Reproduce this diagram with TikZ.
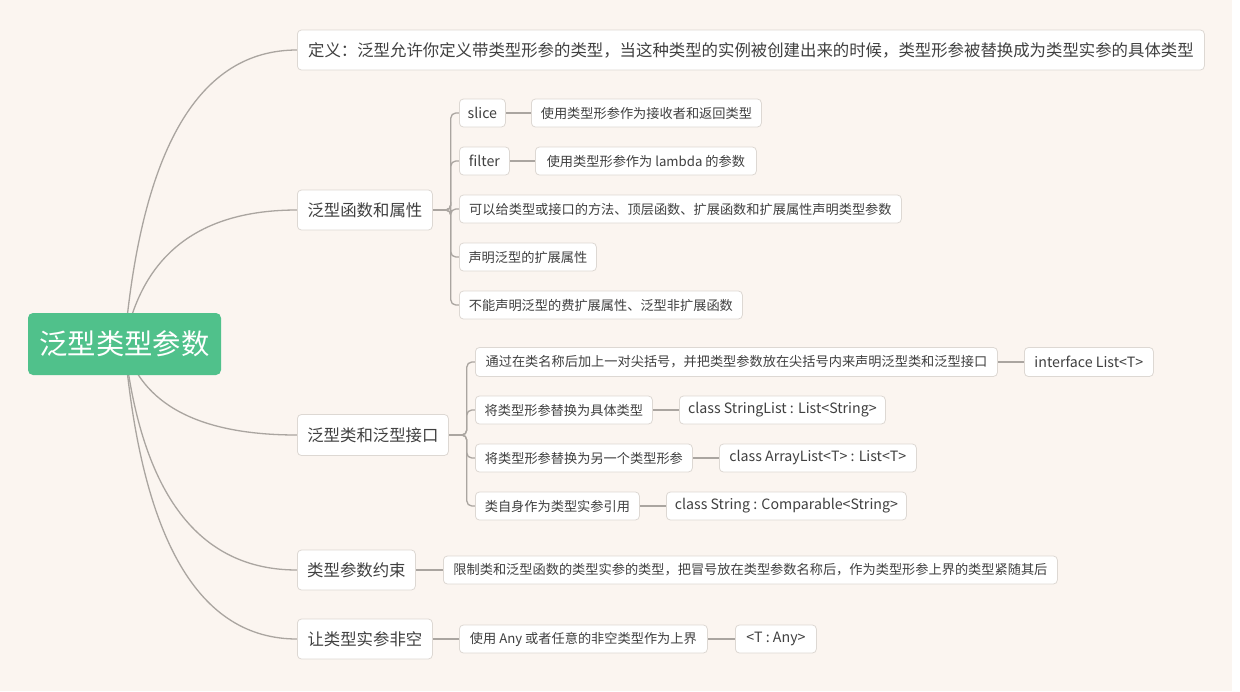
\documentclass[tikz,border=0pt]{standalone}
\usepackage{fontspec}
\setmainfont{Noto Sans CJK SC}
\usetikzlibrary{calc}
\pgfdeclarelayer{bglayer}
\pgfdeclarelayer{edgelayer}
\pgfsetlayers{bglayer,edgelayer,main}
\definecolor{pagebg}{RGB}{251,245,240}
\definecolor{boxline}{RGB}{221,216,211}
\definecolor{txt}{RGB}{64,64,64}
\definecolor{linec}{RGB}{170,165,160}
\definecolor{rootgreen}{RGB}{80,193,139}
\tikzset{
  box/.style={draw=boxline, fill=white, rounded corners=4pt, line width=0.8pt,
    text=txt, inner sep=0pt, anchor=west, minimum height=28pt,
    font=\fontsize{13.2}{15}\selectfont},
  latinbox/.style={box, font=\fontsize{14.2}{16}\selectfont},
  lvlone/.style={box, minimum height=40pt, font=\fontsize{16.4}{19}\selectfont},
  defbox/.style={box, minimum height=40pt, font=\fontsize{16.4}{19}\selectfont},
  rootbox/.style={fill=rootgreen, rounded corners=5pt, text=white, inner sep=0pt,
    minimum width=193pt, minimum height=62pt, font=\fontsize{28.3}{32}\selectfont},
  conn/.style={draw=linec, line width=1.3pt},
}
\begin{document}
\begin{tikzpicture}[x=1pt,y=-1pt]
\useasboundingbox (0,0) rectangle (1240,691);
\begin{pgfonlayer}{bglayer}
  \fill[white] (0,0) rectangle (1240,691);
  \fill[pagebg] (0,0) rectangle (1232,691);
\end{pgfonlayer}

\node[rootbox] (root) at (124.5,344) {泛型类型参数};

\node[defbox, minimum width=907pt] (def) at (297,50) {定义：泛型允许你定义带类型形参的类型，当这种类型的实例被创建出来的时候，类型形参被替换成为类型实参的具体类型};

\node[lvlone, minimum width=135pt] (f1) at (297,210) {泛型函数和属性};
\node[latinbox, minimum width=46pt] (slice) at (459,113) {slice};
\node[box, minimum width=230pt] (sliced) at (531,113) {使用类型形参作为接收者和返回类型};
\node[latinbox, minimum width=50pt] (filter) at (459,161) {filter};
\node[box, minimum width=221pt] (filterd) at (535,161) {使用类型形参作为 lambda 的参数};
\node[box, minimum width=442pt] (fc3) at (459,209) {可以给类型或接口的方法、顶层函数、扩展函数和扩展属性声明类型参数};
\node[box, minimum width=137pt] (fc4) at (459,257) {声明泛型的扩展属性};
\node[box, minimum width=283pt] (fc5) at (459,305) {不能声明泛型的费扩展属性、泛型非扩展函数};

\node[lvlone, minimum width=151pt, minimum height=41pt] (f2) at (297,435) {泛型类和泛型接口};
\node[box, minimum width=522pt, minimum height=29pt] (c1) at (475,362) {通过在类名称后加上一对尖括号，并把类型参数放在尖括号内来声明泛型类和泛型接口};
\node[latinbox, minimum width=129pt, minimum height=29pt] (c1d) at (1024,362) {interface List<T>};
\node[box, minimum width=177pt] (c2) at (475,410) {将类型形参替换为具体类型};
\node[latinbox, minimum width=206pt] (c2d) at (679,410) {class StringList : List<String>};
\node[box, minimum width=217pt] (c3) at (475,458) {将类型形参替换为另一个类型形参};
\node[latinbox, minimum width=197pt] (c3d) at (719,458) {class ArrayList<T> : List<T>};
\node[box, minimum width=164pt] (c4) at (475,506) {类自身作为类型实参引用};
\node[latinbox, minimum width=240pt] (c4d) at (666,506) {class String : Comparable<String>};

\node[lvlone, minimum width=118pt] (f3) at (297,570) {类型参数约束};
\node[box, minimum width=614pt] (f3d) at (443,570) {限制类和泛型函数的类型实参的类型，把冒号放在类型参数名称后，作为类型形参上界的类型紧随其后};

\node[lvlone, minimum width=135pt] (f4) at (297,639) {让类型实参非空};
\node[box, minimum width=248pt] (f4d) at (459,639) {使用 Any 或者任意的非空类型作为上界};
\node[latinbox, minimum width=81pt] (f4e) at (735,639) {<T : Any>};

\begin{pgfonlayer}{edgelayer}
  \coordinate (cx) at (150,0);
  \foreach \n in {def,f1,f2,f3,f4} {
    \coordinate (q) at (cx |- \n.west);
    \draw[conn] (root.center) .. controls ($(root.center)!0.6667!(q)$) and ($(\n.west)!0.6667!(q)$) .. (\n.west);
  }
  \foreach \n in {slice,filter,fc3,fc4,fc5}
    \draw[conn, rounded corners=5pt] (f1.east) -- ++(18,0) |- (\n.west);
  \foreach \n in {c1,c2,c3,c4}
    \draw[conn, rounded corners=5pt] (f2.east) -- ++(18,0) |- (\n.west);
  \draw[conn] (slice.east) -- (sliced.west);
  \draw[conn] (filter.east) -- (filterd.west);
  \draw[conn] (c1.east) -- (c1d.west);
  \draw[conn] (c2.east) -- (c2d.west);
  \draw[conn] (c3.east) -- (c3d.west);
  \draw[conn] (c4.east) -- (c4d.west);
  \draw[conn] (f3.east) -- (f3d.west);
  \draw[conn] (f4.east) -- (f4d.west);
  \draw[conn] (f4d.east) -- (f4e.west);
\end{pgfonlayer}
\end{tikzpicture}
\end{document}
